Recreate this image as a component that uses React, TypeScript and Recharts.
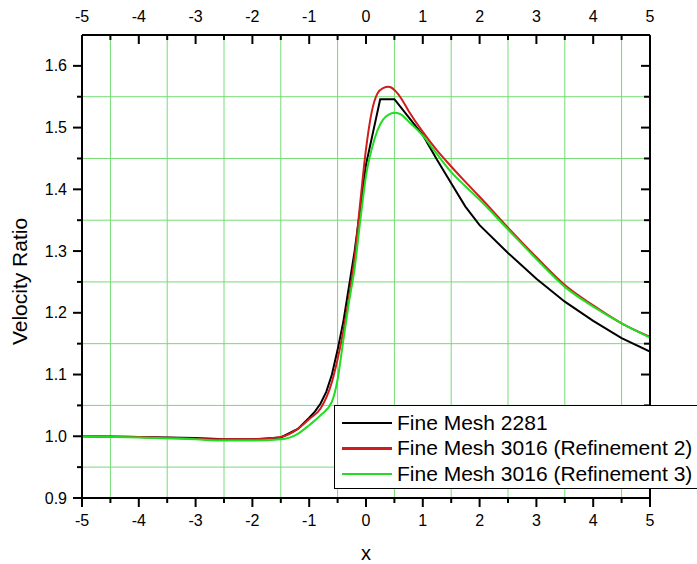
import { LineChart, Line, XAxis, YAxis, ReferenceLine, Legend } from 'recharts'

// axis ticks (every 0.5 in x, every 0.05 in y; labels only on the major ones)
const xTicks = [-5, -4.5, -4, -3.5, -3, -2.5, -2, -1.5, -1, -0.5, 0, 0.5, 1, 1.5, 2, 2.5, 3, 3.5, 4, 4.5, 5]
const yTicks = [0.9, 0.95, 1.0, 1.05, 1.1, 1.15, 1.2, 1.25, 1.3, 1.35, 1.4, 1.45, 1.5, 1.55, 1.6]

// green grid lines sit on the half values
const gridX = [-4.5, -3.5, -2.5, -1.5, -0.5, 0.5, 1.5, 2.5, 3.5, 4.5]
const gridY = [0.95, 1.05, 1.15, 1.25, 1.35, 1.45, 1.55]

// Fine Mesh 2281
const blackX = [-5, -4, -3, -2.5, -2, -1.5, -1.2, -1, -0.9, -0.8, -0.7, -0.6, -0.5, -0.4, -0.2, 0, 0.25, 0.5, 0.75, 1, 1.25, 1.5, 1.75, 2, 2.5, 3, 3.5, 4, 4.5, 5]
const blackY = [1.0, 0.999, 0.997, 0.995, 0.995, 0.998, 1.012, 1.03, 1.04, 1.053, 1.072, 1.1, 1.14, 1.185, 1.3, 1.44, 1.546, 1.546, 1.517, 1.488, 1.448, 1.41, 1.372, 1.342, 1.297, 1.255, 1.218, 1.187, 1.159, 1.137]

// Fine Mesh 3016 (Refinement 2) and (Refinement 3)
const refX = [-5, -4, -3, -2.5, -2, -1.5, -1.2, -1, -0.8, -0.6, -0.5, -0.4, -0.3, -0.2, -0.1, 0, 0.1, 0.2, 0.3, 0.4, 0.5, 0.6, 0.75, 1, 1.25, 1.5, 1.75, 2, 2.5, 3, 3.5, 4, 4.5, 5]
const red2Y = [1.0, 0.999, 0.996, 0.995, 0.995, 0.999, 1.012, 1.028, 1.045, 1.088, 1.125, 1.17, 1.225, 1.29, 1.38, 1.465, 1.525, 1.555, 1.564, 1.566, 1.561, 1.55, 1.527, 1.493, 1.463, 1.437, 1.412, 1.388, 1.338, 1.29, 1.245, 1.212, 1.183, 1.161]
const green3Y = [1.0, 0.998, 0.995, 0.993, 0.993, 0.995, 1.004, 1.018, 1.034, 1.056, 1.092, 1.155, 1.217, 1.272, 1.35, 1.422, 1.465, 1.495, 1.513, 1.521, 1.524, 1.522, 1.51, 1.487, 1.457, 1.428, 1.405, 1.383, 1.335, 1.287, 1.242, 1.21, 1.183, 1.16]

const toRows = (xs: number[], ys: number[]) => xs.map((x, i) => ({ x, y: ys[i] }))

const FONT = '"Liberation Sans", Arial, sans-serif'
const GRID = '#74dc74'

const isWhole = (v: number) => Math.abs(v - Math.round(v)) < 1e-6
const isTenth = (v: number) => Math.abs(v * 10 - Math.round(v * 10)) < 1e-6

function BottomTick({ x, y, payload }: any) {
  const major = isWhole(payload.value)
  return (
    <g>
      <line x1={x} x2={x} y1={y} y2={y + (major ? 9 : 5)} stroke="#000" strokeWidth={2} />
      {major && (
        <text x={x} y={y + 22} textAnchor="middle" dominantBaseline="central" fontSize={16} fontFamily={FONT} fill="#000">
          {payload.value}
        </text>
      )}
    </g>
  )
}

function TopTick({ x, y, payload }: any) {
  const major = isWhole(payload.value)
  return (
    <g>
      <line x1={x} x2={x} y1={y} y2={y + (major ? 9 : 5)} stroke="#000" strokeWidth={2} />
      {major && (
        <text x={x} y={y - 19} textAnchor="middle" dominantBaseline="central" fontSize={16} fontFamily={FONT} fill="#000">
          {payload.value}
        </text>
      )}
    </g>
  )
}

function LeftTick({ x, y, payload }: any) {
  const major = isTenth(payload.value)
  return (
    <g>
      <line x1={x - (major ? 9 : 5)} x2={x} y1={y} y2={y} stroke="#000" strokeWidth={2} />
      {major && (
        <text x={x - 15} y={y} textAnchor="end" dominantBaseline="central" fontSize={16} fontFamily={FONT} fill="#000">
          {payload.value.toFixed(1)}
        </text>
      )}
    </g>
  )
}

function RightTick({ x, y, payload }: any) {
  const major = isTenth(payload.value)
  return <line x1={x - (major ? 9 : 6)} x2={x} y1={y} y2={y} stroke="#000" strokeWidth={2} />
}

function XTitle({ viewBox }: any) {
  const cx = viewBox.x + viewBox.width / 2
  return (
    <text x={cx} y={viewBox.y + 62} textAnchor="middle" fontSize={20} fontFamily={FONT} fill="#000">
      x
    </text>
  )
}

function YTitle({ viewBox }: any) {
  const cy = viewBox.y + viewBox.height / 2 + 15
  return (
    <text x={27} y={cy} transform={`rotate(-90 27 ${cy})`} textAnchor="middle" fontSize={21} fontFamily={FONT} fill="#000">
      Velocity Ratio
    </text>
  )
}

function LegendBox({ payload }: any) {
  return (
    <div
      style={{
        width: 380,
        height: 84,
        boxSizing: 'border-box',
        border: '1.5px solid #000',
        background: '#fff',
        paddingTop: 4,
        paddingLeft: 7,
        fontFamily: FONT,
      }}
    >
      {(payload || []).map((p: any) => (
        <div key={p.value} style={{ display: 'flex', alignItems: 'center', height: 25.6 }}>
          <span style={{ display: 'inline-block', width: 50, height: 2.5, background: p.color, marginRight: 5 }} />
          <span style={{ fontSize: 21, color: '#000', whiteSpace: 'nowrap' }}>{p.value}</span>
        </div>
      ))}
    </div>
  )
}

export default function App() {
  return (
    <div style={{ position: 'absolute', left: 0, top: 0, width: 697, height: 564, overflow: 'hidden', background: '#fff' }}>
      <LineChart width={697} height={564} margin={{ top: 0, right: 0, bottom: 0, left: 0 }}>
        <XAxis
          xAxisId="bottom"
          dataKey="x"
          type="number"
          domain={[-5, 5]}
          allowDataOverflow
          ticks={xTicks}
          interval={0}
          height={66}
          tickSize={0}
          tickMargin={0}
          tickLine={false}
          axisLine={{ stroke: '#000', strokeWidth: 2 }}
          tick={<BottomTick />}
          label={<XTitle />}
        />
        <XAxis
          xAxisId="top"
          orientation="top"
          dataKey="x"
          type="number"
          domain={[-5, 5]}
          allowDataOverflow
          ticks={xTicks}
          interval={0}
          height={35}
          tickSize={0}
          tickMargin={0}
          tickLine={false}
          axisLine={{ stroke: '#000', strokeWidth: 2 }}
          tick={<TopTick />}
        />
        <YAxis
          yAxisId="left"
          type="number"
          domain={[0.9, 1.65]}
          allowDataOverflow
          ticks={yTicks}
          interval={0}
          width={82}
          tickSize={0}
          tickMargin={0}
          tickLine={false}
          axisLine={{ stroke: '#000', strokeWidth: 2 }}
          tick={<LeftTick />}
          label={<YTitle />}
        />
        <YAxis
          yAxisId="right"
          orientation="right"
          type="number"
          domain={[0.9, 1.65]}
          allowDataOverflow
          ticks={yTicks}
          interval={0}
          width={47}
          tickSize={0}
          tickMargin={0}
          tickLine={false}
          axisLine={{ stroke: '#000', strokeWidth: 2 }}
          tick={<RightTick />}
        />

        {gridX.map((v) => (
          <ReferenceLine key={'gx' + v} xAxisId="bottom" yAxisId="left" x={v} stroke={GRID} strokeWidth={1} />
        ))}
        {gridY.map((v) => (
          <ReferenceLine key={'gy' + v} xAxisId="bottom" yAxisId="left" y={v} stroke={GRID} strokeWidth={1} />
        ))}

        <Line
          xAxisId="bottom"
          yAxisId="left"
          data={toRows(blackX, blackY)}
          dataKey="y"
          name="Fine Mesh 2281"
          type="linear"
          stroke="#000000"
          strokeWidth={2}
          dot={false}
          activeDot={false}
          isAnimationActive={false}
        />
        <Line
          xAxisId="bottom"
          yAxisId="left"
          data={toRows(refX, red2Y)}
          dataKey="y"
          name="Fine Mesh 3016 (Refinement 2)"
          type="monotone"
          stroke="#d01c1c"
          strokeWidth={2}
          dot={false}
          activeDot={false}
          isAnimationActive={false}
        />
        <Line
          xAxisId="bottom"
          yAxisId="left"
          data={toRows(refX, green3Y)}
          dataKey="y"
          name="Fine Mesh 3016 (Refinement 3)"
          type="monotone"
          stroke="#22dd22"
          strokeWidth={2}
          dot={false}
          activeDot={false}
          isAnimationActive={false}
        />

        <Legend
          layout="horizontal"
          align="center"
          verticalAlign="middle"
          content={<LegendBox />}
          wrapperStyle={{ position: 'absolute', left: 334, top: 405, width: 380, height: 84 }}
        />
      </LineChart>
    </div>
  )
}
